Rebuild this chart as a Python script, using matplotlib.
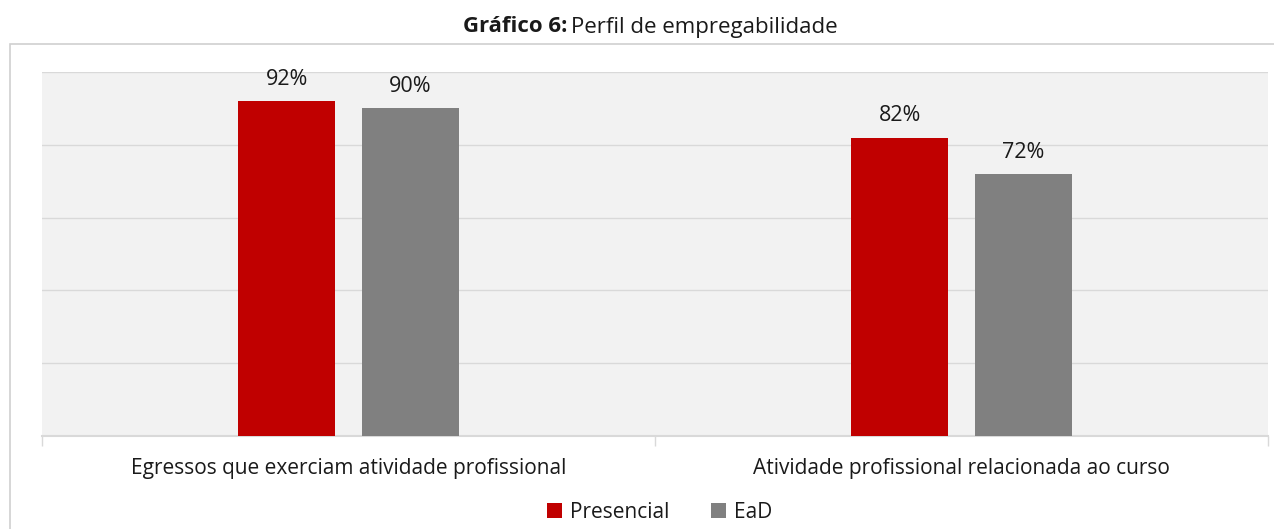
import matplotlib
matplotlib.use("Agg")
import matplotlib.pyplot as plt
from matplotlib.patches import Rectangle
import numpy as np

categories = ["Egressos que exerciam atividade profissional",
              "Atividade profissional relacionada ao curso"]
presencial = [92, 82]
ead = [90, 72]
series_names = ["Presencial", "EaD"]

plt.rcParams['font.family'] = ['Open Sans', 'DejaVu Sans']

fig = plt.figure(figsize=(12.74, 5.29), dpi=100)
ax = fig.add_axes([42/1274, 1 - 436/529, (1268 - 42)/1274, (436 - 72)/529])

# outer chart border
fig.patches.append(Rectangle((10/1274, -0.1), 1.2, 1 - 44/529 + 0.1,
                             transform=fig.transFigure, fill=False,
                             edgecolor='#D0D0D0', linewidth=1.2))

x = np.arange(len(categories))
w = 0.158
off = 0.101
b1 = ax.bar(x - off, presencial, w, color='#C00000', label=series_names[0], zorder=3)
b2 = ax.bar(x + off, ead, w, color='#808080', label=series_names[1], zorder=3)

for bars in (b1, b2):
    for b in bars:
        ax.annotate(f"{b.get_height():.0f}%", (b.get_x() + b.get_width()/2, b.get_height()),
                    xytext=(0, 8), textcoords='offset points', ha='center', va='bottom',
                    fontsize=15.5, color='#1a1a1a')

ax.set_facecolor('#F2F2F2')
ax.set_xlim(-0.5, 1.5)
ax.set_ylim(0, 100)
ax.set_yticks(np.arange(0, 101, 20))
ax.yaxis.grid(True, color='#D9D9D9', linewidth=1, zorder=0)
ax.tick_params(axis='y', length=0, labelleft=False)
ax.set_xticks(x)
ax.set_xticklabels(categories, fontsize=15, color='#1a1a1a')
ax.tick_params(axis='x', which='major', length=0, pad=16)
ax.set_xticks([-0.5, 0.5, 1.5], minor=True)
ax.tick_params(axis='x', which='minor', length=7, color='#D9D9D9', width=1)
for s in ['top', 'left', 'right']:
    ax.spines[s].set_visible(False)
ax.spines['bottom'].set_color('#D9D9D9')
ax.spines['bottom'].set_linewidth(1.5)
ax.set_axisbelow(True)

leg = fig.legend(handles=[b1, b2], loc='center', bbox_to_anchor=(660/1274, 1 - 512/529),
                 ncol=2, frameon=False, fontsize=15, handlelength=0.7, handleheight=0.7,
                 handletextpad=0.4, columnspacing=2.0)
for t in leg.get_texts():
    t.set_color('#1a1a1a')

ty = 1 - 27/529
fig.text(567/1274, ty, "Gráfico 6:", fontsize=16, fontweight='bold', ha='right', va='center',
         color='#1a1a1a')
fig.text(571/1274, ty, "Perfil de empregabilidade", fontsize=16, ha='left', va='center',
         color='#1a1a1a')

fig.savefig("out.png", dpi=100)
